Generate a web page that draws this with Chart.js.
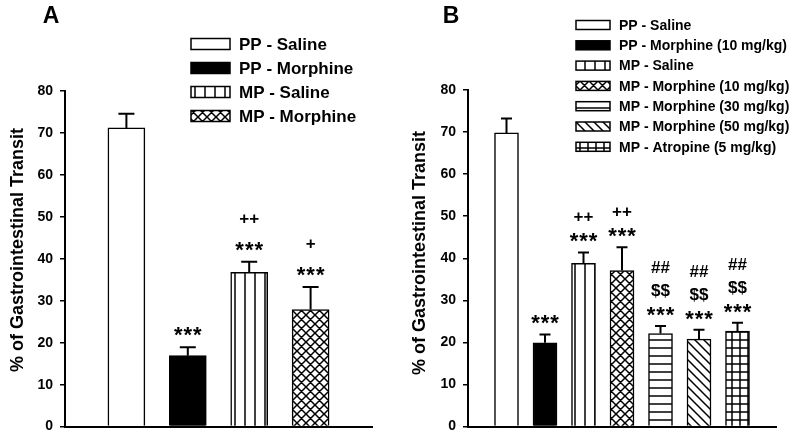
<!DOCTYPE html>
<html>
<head>
<meta charset="utf-8">
<script src="https://cdn.jsdelivr.net/npm/chart.js@4.4.1/dist/chart.umd.min.js"></script>
<style>
body{margin:0;background:#fff;}
.panel{position:absolute;top:0;width:400px;height:442px;}
</style>
</head>
<body>
<div class="panel" style="left:0"><canvas id="chartA" width="400" height="442"></canvas></div>
<div class="panel" style="left:400px"><canvas id="chartB" width="400" height="442"></canvas></div>
<script>
var groupsA = ["PP - Saline", "PP - Morphine", "MP - Saline", "MP - Morphine"];
var meansA = [71.2, 16.9, 36.8, 27.9];
var errorsA = [3.4, 2.0, 2.5, 5.4];
var marksA = [[], ["***"], ["***", "++"], ["***", "+"]];
var fillsA = ["white", "black", "vlines", "cross"];

var groupsB = ["PP - Saline", "PP - Morphine (10 mg/kg)", "MP - Saline", "MP - Morphine (10 mg/kg)",
  "MP - Morphine (30 mg/kg)", "MP - Morphine (50 mg/kg)", "MP - Atropine (5 mg/kg)"];
var meansB = [69.8, 19.9, 38.8, 37.1, 22.1, 20.8, 22.7];
var errorsB = [3.4, 2.0, 2.6, 5.5, 1.8, 2.2, 2.0];
var marksB = [[], ["***"], ["***", "++"], ["***", "++"], ["***", "$$", "##"], ["***", "$$", "##"], ["***", "$$", "##"]];
var fillsB = ["white", "black", "vlines", "cross", "hlines", "diag", "grid"];

var yTicks = [0, 10, 20, 30, 40, 50, 60, 70, 80];

var FONT = "'Liberation Sans', Arial, sans-serif";

// small tiles used as bar fills
function makePattern(kind) {
  if (kind == "white") return "#ffffff";
  if (kind == "black") return "#000000";
  var s = kind == "vlines" ? 10 : (kind == "cross" || kind == "diag") ? 9 : 8;
  var c = document.createElement("canvas");
  c.width = s; c.height = s;
  var g = c.getContext("2d");
  g.fillStyle = "#fff"; g.fillRect(0, 0, s, s);
  g.strokeStyle = "#000"; g.lineWidth = 1.5;
  g.beginPath();
  if (kind == "vlines" || kind == "grid") { g.moveTo(s / 2, 0); g.lineTo(s / 2, s); }
  if (kind == "hlines" || kind == "grid") { g.moveTo(0, s / 2); g.lineTo(s, s / 2); }
  if (kind == "cross" || kind == "diag") {
    g.moveTo(-1, -1); g.lineTo(s + 1, s + 1);
    g.moveTo(-1, s - 1); g.lineTo(1, s + 1);
    g.moveTo(s - 1, -1); g.lineTo(s + 1, 1);
  }
  if (kind == "cross") {
    g.moveTo(s + 1, -1); g.lineTo(-1, s + 1);
    g.moveTo(1, -1); g.lineTo(-1, 1);
    g.moveTo(s + 1, s - 1); g.lineTo(s - 1, s + 1);
  }
  g.stroke();
  return g.createPattern(c, "repeat");
}

var extrasPlugin = {
  id: "extras",
  afterDatasetsDraw: function (chart) {
    var o = chart.options.plugins.extras;
    var ctx = chart.ctx;
    var y = chart.scales.y;
    var meta = chart.getDatasetMeta(0);
    ctx.save();
    // error bars and significance marks
    for (var i = 0; i < o.means.length; i++) {
      var el = meta.data[i + 1];
      var top = y.getPixelForValue(o.means[i]);
      var et = y.getPixelForValue(o.means[i] + o.errors[i]);
      ctx.strokeStyle = "#000"; ctx.lineWidth = 2;
      ctx.beginPath();
      ctx.moveTo(el.x, top); ctx.lineTo(el.x, et);
      ctx.moveTo(el.x - o.cap / 2, et); ctx.lineTo(el.x + o.cap / 2, et);
      ctx.stroke();
      ctx.fillStyle = "#000";
      ctx.textAlign = "center"; ctx.textBaseline = "alphabetic";
      var base = et - o.markGap;
      for (var k = 0; k < o.marks[i].length; k++) {
        var t = o.marks[i][k];
        if (t == "***") {
          ctx.font = "bold 22px " + FONT;
          ctx.letterSpacing = "1px";
          ctx.fillText(t, el.x + 0.5, base - k * o.markStep + 3);
        } else {
          ctx.font = "bold " + o.markSize + "px " + FONT;
          ctx.letterSpacing = "0px";
          ctx.fillText(t, el.x, base - k * o.markStep);
        }
      }
    }
    ctx.letterSpacing = "0px";
    // legend
    ctx.font = "bold " + o.legSize + "px " + FONT;
    ctx.textAlign = "left"; ctx.textBaseline = "middle";
    for (var j = 0; j < o.groups.length; j++) {
      var cy = o.legY + j * o.legStep;
      ctx.fillStyle = o.patterns[j];
      ctx.fillRect(o.legX, cy - o.boxH / 2, o.boxW, o.boxH);
      ctx.strokeStyle = "#000"; ctx.lineWidth = 1.5;
      ctx.strokeRect(o.legX, cy - o.boxH / 2, o.boxW, o.boxH);
      ctx.fillStyle = "#000";
      ctx.fillText(o.groups[j], o.legX + o.boxW + 9, cy + 1);
    }
    // panel letter and axis title
    ctx.font = "bold 23px " + FONT;
    ctx.textAlign = "center";
    ctx.fillText(o.letter, 51, 17);
    ctx.save();
    ctx.translate(o.titleX, o.titleY);
    ctx.rotate(-Math.PI / 2);
    ctx.font = "bold 18px " + FONT;
    ctx.fillText("% of Gastrointestinal Transit", 0, 0);
    ctx.restore();
    ctx.restore();
  }
};

function buildChart(id, groups, means, errors, marks, fills, cfg) {
  var patterns = fills.map(makePattern);
  var labels = [""].concat(groups).concat([""]);
  var data = [null].concat(means).concat([null]);
  var bg = ["#fff"].concat(patterns).concat(["#fff"]);
  return new Chart(document.getElementById(id), {
    type: "bar",
    data: {
      labels: labels,
      datasets: [{
        data: data,
        backgroundColor: bg,
        borderColor: "#000",
        borderWidth: 1.5,
        barThickness: cfg.barW
      }]
    },
    options: {
      responsive: false,
      animation: false,
      devicePixelRatio: 1,
      layout: { padding: cfg.pad },
      scales: {
        x: {
          offset: false,
          grid: { display: false },
          border: { display: true, color: "#000", width: 2 },
          ticks: { display: false },
          afterFit: function (s) { s.height = 0; }
        },
        y: {
          min: 0, max: 80,
          afterBuildTicks: function (s) { s.ticks = yTicks.map(function (v) { return { value: v }; }); },
          grid: { drawOnChartArea: false, drawTicks: true, tickLength: 5, color: "#000", lineWidth: 1.5 },
          border: { display: true, color: "#000", width: 2 },
          ticks: { color: "#000", padding: 7, font: { family: FONT, size: 14, weight: "bold" } },
          afterFit: function (s) { s.width = cfg.axisW; }
        }
      },
      plugins: {
        legend: { display: false },
        tooltip: { enabled: false },
        extras: {
          groups: groups, means: means, errors: errors, marks: marks, patterns: patterns,
          cap: cfg.cap, markSize: 17, markGap: cfg.markGap, markStep: cfg.markStep,
          legX: cfg.legX, legY: cfg.legY, legStep: cfg.legStep, boxW: cfg.boxW, boxH: cfg.boxH,
          legSize: cfg.legSize, letter: cfg.letter, titleX: cfg.titleX, titleY: cfg.titleY
        }
      }
    },
    plugins: [extrasPlugin]
  });
}

buildChart("chartA", groupsA, meansA, errorsA, marksA, fillsA, {
  barW: 37, pad: { left: 0, right: 28, top: 91, bottom: 13 }, axisW: 65,
  cap: 16, markGap: 8, markStep: 30,
  legX: 191, legY: 44, legStep: 24, boxW: 39, boxH: 11, legSize: 17,
  letter: "A", titleX: 18, titleY: 250
});

buildChart("chartB", groupsB, meansB, errorsB, marksB, fillsB, {
  barW: 24, pad: { left: 0, right: 24, top: 90, bottom: 14 }, axisW: 68,
  cap: 11, markGap: 7, markStep: 23,
  legX: 176, legY: 25, legStep: 20.3, boxW: 34, boxH: 9, legSize: 14,
  letter: "B", titleX: 20, titleY: 253
});
</script>
</body>
</html>
